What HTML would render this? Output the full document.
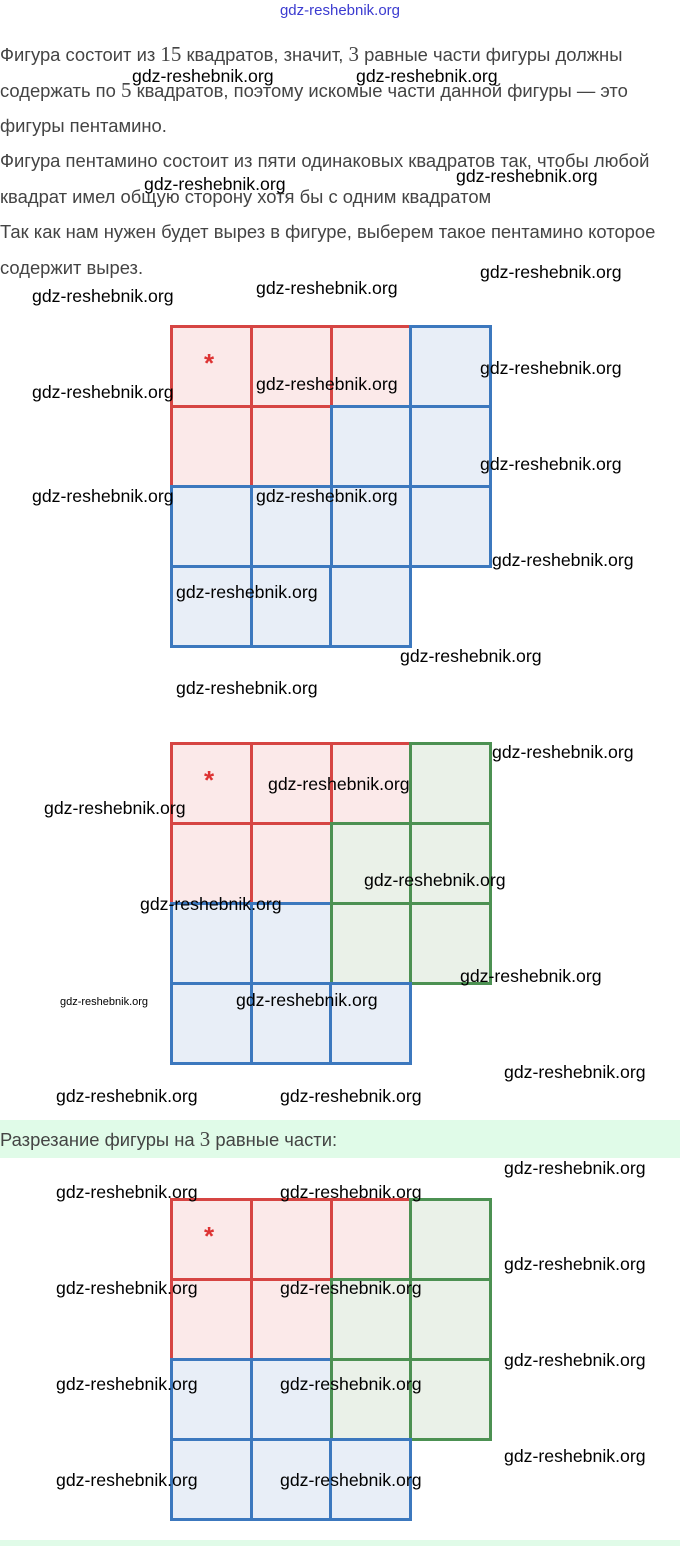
<!DOCTYPE html>
<html><head><meta charset="utf-8"><style>
body{margin:0;width:680px;height:1546px;position:relative;background:#fff;overflow:hidden;font-family:"Liberation Sans",sans-serif}
.t{position:absolute;left:0;font-size:18.4px;color:#444;white-space:nowrap;line-height:22px}
.w{position:absolute;font-size:17.7px;color:#000;white-space:nowrap;line-height:20px;transform:translateY(-10px);z-index:5}
.c{position:absolute;width:83px;height:83px;box-sizing:border-box;border:3px solid}
.r{border-color:#d64543;background:#fbe9e9}
.b{border-color:#3c78be;background:#e8eef7}
.g{border-color:#4c9152;background:#eaf1e8}
.s{position:absolute;color:#d33;font-size:26px;font-weight:bold;z-index:4}
.n{font-family:'Liberation Serif';font-size:21px}
</style></head><body>
<div style="position:absolute;top:2px;left:0;width:680px;text-align:center;color:#3b3bd0;font-size:15px">gdz-reshebnik.org</div>
<div class="t" style="top:43px">Фигура состоит из <span class="n">15</span> квадратов, значит, <span class="n">3</span> равные части фигуры должны</div>
<div class="t" style="top:79px">содержать по <span class="n">5</span> квадратов, поэтому искомые части данной фигуры — это</div>
<div class="t" style="top:115px">фигуры пентамино.</div>
<div class="t" style="top:150px">Фигура пентамино состоит из пяти одинаковых квадратов так, чтобы любой</div>
<div class="t" style="top:186px">квадрат имел общую сторону хотя бы с одним квадратом</div>
<div class="t" style="top:221px">Так как нам нужен будет вырез в фигуре, выберем такое пентамино которое</div>
<div class="t" style="top:257px">содержит вырез.</div>
<div style="position:absolute;left:0;top:1120px;width:680px;height:38px;background:#e0fbe8"></div>
<div class="t" style="top:1128px">Разрезание фигуры на <span class="n">3</span> равные части:</div>
<div style="position:absolute;left:0;top:1540px;width:680px;height:6px;background:#e0fbe8"></div>

<div class="c r" style="left:170px;top:325px"></div><div class="c r" style="left:250px;top:325px"></div><div class="c r" style="left:330px;top:325px"></div><div class="c b" style="left:409px;top:325px"></div>
<div class="c r" style="left:170px;top:405px"></div><div class="c r" style="left:250px;top:405px"></div><div class="c b" style="left:330px;top:405px"></div><div class="c b" style="left:409px;top:405px"></div>
<div class="c b" style="left:170px;top:485px"></div><div class="c b" style="left:250px;top:485px"></div><div class="c b" style="left:330px;top:485px"></div><div class="c b" style="left:409px;top:485px"></div>
<div class="c b" style="left:170px;top:565px"></div><div class="c b" style="left:250px;top:565px"></div><div class="c b" style="left:329px;top:565px"></div>
<div class="s" style="left:204px;top:348px">*</div>

<div class="c r" style="left:170px;top:742px"></div><div class="c r" style="left:250px;top:742px"></div><div class="c r" style="left:330px;top:742px"></div><div class="c g" style="left:409px;top:742px"></div>
<div class="c r" style="left:170px;top:822px"></div><div class="c r" style="left:250px;top:822px"></div><div class="c g" style="left:330px;top:822px"></div><div class="c g" style="left:409px;top:822px"></div>
<div class="c b" style="left:170px;top:902px"></div><div class="c b" style="left:250px;top:902px"></div><div class="c g" style="left:330px;top:902px"></div><div class="c g" style="left:409px;top:902px"></div>
<div class="c b" style="left:170px;top:982px"></div><div class="c b" style="left:250px;top:982px"></div><div class="c b" style="left:329px;top:982px"></div>
<div class="s" style="left:204px;top:765px">*</div>

<div class="c r" style="left:170px;top:1198px"></div><div class="c r" style="left:250px;top:1198px"></div><div class="c r" style="left:330px;top:1198px"></div><div class="c g" style="left:409px;top:1198px"></div>
<div class="c r" style="left:170px;top:1278px"></div><div class="c r" style="left:250px;top:1278px"></div><div class="c g" style="left:330px;top:1278px"></div><div class="c g" style="left:409px;top:1278px"></div>
<div class="c b" style="left:170px;top:1358px"></div><div class="c b" style="left:250px;top:1358px"></div><div class="c g" style="left:330px;top:1358px"></div><div class="c g" style="left:409px;top:1358px"></div>
<div class="c b" style="left:170px;top:1438px"></div><div class="c b" style="left:250px;top:1438px"></div><div class="c b" style="left:329px;top:1438px"></div>
<div class="s" style="left:204px;top:1221px">*</div>

<div class="w" style="left:132px;top:76px">gdz-reshebnik.org</div>
<div class="w" style="left:356px;top:76px">gdz-reshebnik.org</div>
<div class="w" style="left:144px;top:184px">gdz-reshebnik.org</div>
<div class="w" style="left:456px;top:176px">gdz-reshebnik.org</div>
<div class="w" style="left:480px;top:272px">gdz-reshebnik.org</div>
<div class="w" style="left:32px;top:296px">gdz-reshebnik.org</div>
<div class="w" style="left:256px;top:288px">gdz-reshebnik.org</div>
<div class="w" style="left:32px;top:392px">gdz-reshebnik.org</div>
<div class="w" style="left:256px;top:384px">gdz-reshebnik.org</div>
<div class="w" style="left:480px;top:368px">gdz-reshebnik.org</div>
<div class="w" style="left:480px;top:464px">gdz-reshebnik.org</div>
<div class="w" style="left:32px;top:496px">gdz-reshebnik.org</div>
<div class="w" style="left:256px;top:496px">gdz-reshebnik.org</div>
<div class="w" style="left:492px;top:560px">gdz-reshebnik.org</div>
<div class="w" style="left:176px;top:592px">gdz-reshebnik.org</div>
<div class="w" style="left:400px;top:656px">gdz-reshebnik.org</div>
<div class="w" style="left:176px;top:688px">gdz-reshebnik.org</div>
<div class="w" style="left:492px;top:752px">gdz-reshebnik.org</div>
<div class="w" style="left:268px;top:784px">gdz-reshebnik.org</div>
<div class="w" style="left:44px;top:808px">gdz-reshebnik.org</div>
<div class="w" style="left:364px;top:880px">gdz-reshebnik.org</div>
<div class="w" style="left:140px;top:904px">gdz-reshebnik.org</div>
<div class="w" style="left:460px;top:976px">gdz-reshebnik.org</div>
<div class="w" style="left:60px;top:1002px;font-size:11px">gdz-reshebnik.org</div>
<div class="w" style="left:236px;top:1000px">gdz-reshebnik.org</div>
<div class="w" style="left:504px;top:1072px">gdz-reshebnik.org</div>
<div class="w" style="left:56px;top:1096px">gdz-reshebnik.org</div>
<div class="w" style="left:280px;top:1096px">gdz-reshebnik.org</div>
<div class="w" style="left:504px;top:1168px">gdz-reshebnik.org</div>
<div class="w" style="left:56px;top:1192px">gdz-reshebnik.org</div>
<div class="w" style="left:280px;top:1192px">gdz-reshebnik.org</div>
<div class="w" style="left:504px;top:1264px">gdz-reshebnik.org</div>
<div class="w" style="left:56px;top:1288px">gdz-reshebnik.org</div>
<div class="w" style="left:280px;top:1288px">gdz-reshebnik.org</div>
<div class="w" style="left:504px;top:1360px">gdz-reshebnik.org</div>
<div class="w" style="left:56px;top:1384px">gdz-reshebnik.org</div>
<div class="w" style="left:280px;top:1384px">gdz-reshebnik.org</div>
<div class="w" style="left:504px;top:1456px">gdz-reshebnik.org</div>
<div class="w" style="left:56px;top:1480px">gdz-reshebnik.org</div>
<div class="w" style="left:280px;top:1480px">gdz-reshebnik.org</div>
</body></html>
